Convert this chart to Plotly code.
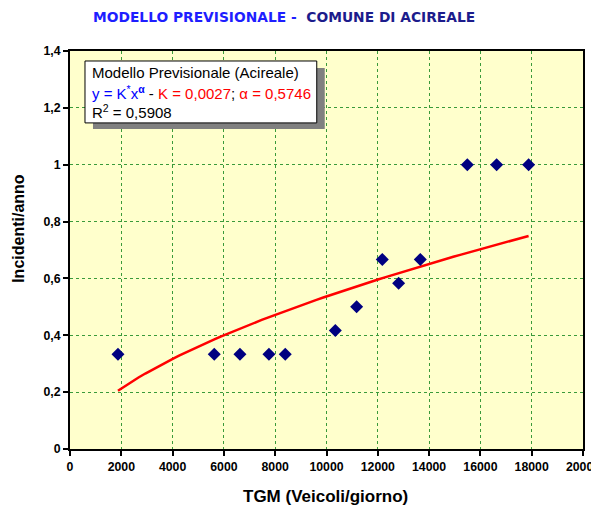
import plotly.graph_objects as go

# Data
tgm = [1870, 5625, 6625, 7755, 8393, 10343, 11174, 12175, 12811, 13657, 15489, 16632, 17879]
incidenti = [0.333, 0.333, 0.333, 0.333, 0.333, 0.417, 0.5, 0.667, 0.583, 0.667, 1.0, 1.0, 1.0]

# Model shown in the chart: y = K * x^alpha
K = 0.0027
ALPHA = 0.5746
curve_x = [1870 + i * (17879 - 1870) / 60 for i in range(61)]
curve_y = [K * xv ** ALPHA for xv in curve_x]

x_ticks = list(range(0, 20001, 2000))
y_ticks = [0, 0.2, 0.4, 0.6, 0.8, 1.0, 1.2, 1.4]
y_tick_labels = ["0", "0,2", "0,4", "0,6", "0,8", "1", "1,2", "1,4"]

# page has an 8px body margin: figure is drawn offset by (8, 8)
OFF = 8
W, H = 599 - OFF, 510 - OFF
L, R, T, B = 62, 15.5, 43, 60.5
pw, ph = W - L - R, H - T - B

def px(xp):  # page pixel x -> paper
    return (xp - OFF - L) / pw

def py(yp):  # page pixel y -> paper
    return (H - B - (yp - OFF)) / ph

fig = go.Figure()
fig.add_trace(go.Scatter(x=curve_x, y=curve_y, mode="lines",
                         line=dict(color="#FF0000", width=2.5), showlegend=False,
                         hoverinfo="skip"))
fig.add_trace(go.Scatter(x=tgm, y=incidenti, mode="markers",
                         marker=dict(symbol="diamond", size=10, color="#000080"),
                         showlegend=False))

tick_font = dict(family="Liberation Sans, Arial", size=12.3, color="black", weight="bold")
axis_common = dict(showline=True, linecolor="black", linewidth=2, mirror=True,
                   ticks="outside", ticklen=5, tickwidth=2, tickcolor="black",
                   showgrid=True, gridcolor="#3A9A3A", griddash="dot", gridwidth=1.2,
                   zeroline=False, automargin=False, tickfont=tick_font,
                   ticklabeloverflow="allow")

fig.update_xaxes(range=[0, 20000], tickvals=x_ticks,
                 ticktext=[str(v) for v in x_ticks], **axis_common)
fig.update_yaxes(range=[0, 1.4], tickvals=y_ticks, ticktext=y_tick_labels, **axis_common)

shapes = [
    # shadow
    dict(type="rect", xref="paper", yref="paper",
         x0=px(93), x1=px(325), y0=py(129), y1=py(68),
         fillcolor="#808080", line=dict(width=0), layer="above"),
    # box
    dict(type="rect", xref="paper", yref="paper",
         x0=px(85), x1=px(317), y0=py(123), y1=py(61),
         fillcolor="white", line=dict(color="black", width=1), layer="above"),
]

tfont = dict(family="Liberation Sans, Arial", size=15, color="black")
annotations = [
    dict(xref="paper", yref="paper", x=px(90), y=py(73), xanchor="left", yanchor="middle",
         text="Modello Previsionale (Acireale)", showarrow=False, font=tfont),
    dict(xref="paper", yref="paper", x=px(90), y=py(93), xanchor="left", yanchor="middle",
         text="<span style='color:#0000FF'>y = K<sup>*</sup>x<sup><b>α</b></sup></span> - "
              "<span style='color:#FF0000'>K = 0,0027</span>; "
              "<span style='color:#FF0000'>α = 0,5746</span>",
         showarrow=False, font=tfont),
    dict(xref="paper", yref="paper", x=px(90), y=py(112), xanchor="left", yanchor="middle",
         text="R<sup>2</sup> = 0,5908", showarrow=False, font=tfont),
    dict(xref="paper", yref="paper", x=px(284), y=py(17), xanchor="center", yanchor="middle",
         text="<b><span style='color:#1E1EFF'>MODELLO PREVISIONALE - </span>"
              "<span style='color:#1C1C8C'> COMUNE DI ACIREALE</span></b>",
         showarrow=False, font=dict(family="DejaVu Sans", size=13.8)),
    dict(xref="paper", yref="paper", x=px(326), y=py(497), xanchor="center", yanchor="middle",
         text="<b>TGM (Veicoli/giorno)</b>", showarrow=False,
         font=dict(family="Liberation Sans, Arial", size=17, color="black")),
    dict(xref="paper", yref="paper", x=px(19), y=py(229), xanchor="center", yanchor="middle",
         text="<b>Incidenti/anno</b>", showarrow=False, textangle=-90,
         font=dict(family="Liberation Sans, Arial", size=16, color="black")),
]

fig.update_layout(width=W, height=H, margin=dict(l=L, r=R, t=T, b=B),
                  paper_bgcolor="white", plot_bgcolor="#FFFFCC",
                  shapes=shapes, annotations=annotations, separators=",.")

fig.write_html("out.html")
